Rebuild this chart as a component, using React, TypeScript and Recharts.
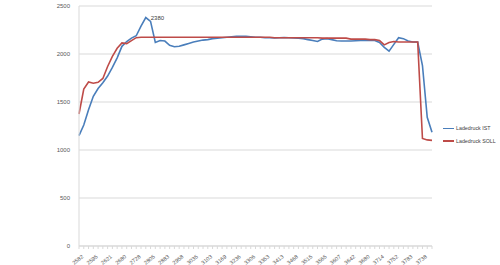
import { LineChart, Line, XAxis, YAxis, CartesianGrid, Legend, LabelList } from "recharts";

// Drehzahl (x-Achse), nur jede dritte ist beschriftet
const drehzahl = [
  "2582", "2586", "2590", "2595", "2603", "2612", "2621", "2640", "2660", "2680",
  "2696", "2712", "2728", "2754", "2780", "2805", "2831", "2857", "2883", "2908",
  "2933", "2958", "2984", "3010", "3035", "3058", "3081", "3103", "3125", "3147",
  "3169", "3191", "3214", "3236", "3259", "3283", "3306", "3322", "3338", "3353",
  "3373", "3393", "3413", "3431", "3450", "3468", "3484", "3500", "3515", "3532",
  "3548", "3565", "3579", "3593", "3607", "3619", "3631", "3642", "3655", "3668",
  "3680", "3691", "3703", "3714", "3727", "3740", "3752", "3763", "3773", "3783",
  "3795", "3760", "3738", "3712", "3680",
];

const ladedruckIst = [
  1150, 1260, 1420, 1560, 1640, 1700, 1770, 1860, 1960, 2080,
  2130, 2165, 2190, 2290, 2380, 2340, 2120, 2140, 2135, 2090,
  2075, 2080, 2095, 2110, 2125, 2135, 2145, 2150, 2160, 2165,
  2170, 2175, 2180, 2185, 2185, 2185, 2180, 2175, 2175, 2170,
  2170, 2168, 2170, 2172, 2170, 2168, 2165, 2160, 2150, 2140,
  2130, 2155, 2160, 2150, 2138, 2135, 2135, 2135, 2138, 2140,
  2140, 2140, 2140, 2120, 2070, 2030, 2100, 2170, 2160, 2135,
  2125, 2125, 1880, 1340, 1185,
];

const ladedruckSoll = [
  1375, 1635, 1708, 1695, 1705, 1745, 1870, 1975, 2060, 2115,
  2108, 2140, 2170, 2175, 2175, 2175, 2175, 2175, 2175, 2175,
  2175, 2175, 2175, 2175, 2175, 2175, 2175, 2175, 2175, 2175,
  2175, 2175, 2175, 2175, 2175, 2175, 2175, 2175, 2175, 2175,
  2175, 2170, 2170, 2170, 2170, 2170, 2170, 2170, 2170, 2170,
  2170, 2165, 2165, 2165, 2165, 2165, 2165, 2155, 2155, 2155,
  2155, 2150, 2150, 2140, 2095, 2120, 2130, 2125, 2125, 2125,
  2125, 2125, 1120, 1105, 1100,
];

const yTicks = [0, 500, 1000, 1500, 2000, 2500];

const data = drehzahl.map((d, i) => ({
  drehzahl: d,
  ist: ladedruckIst[i],
  soll: ladedruckSoll[i],
}));

const FONT = "'Liberation Sans', Arial, sans-serif";
const BLUE = "#4A7EBB";
const RED = "#BE4B48";

const XTick = (props: any) => {
  const { x, y, payload, index } = props;
  if (index % 3 !== 0) return null;
  return (
    <g transform={`translate(${x + 3},${y + 4})`}>
      <text transform="rotate(-38)" textAnchor="end" dy={3} fontSize={5.5} fill="#595959" fontFamily={FONT}>
        {payload.value}
      </text>
    </g>
  );
};

const PeakLabel = (props: any) => {
  const { x, y, index, value } = props;
  if (index !== 14) return null;
  return (
    <text x={x + 5} y={y + 2} fontSize={6} fill="#404040" fontFamily={FONT}>
      {value}
    </text>
  );
};

const LegendBox = () => (
  <div style={{ fontFamily: FONT, fontSize: 5.3, color: "#404040", lineHeight: "12.5px", whiteSpace: "nowrap" }}>
    {[
      { name: "Ladedruck IST", color: BLUE },
      { name: "Ladedruck SOLL", color: RED },
    ].map((e) => (
      <div key={e.name} style={{ display: "flex", alignItems: "center" }}>
        <span style={{ display: "inline-block", width: 11, height: 1.5, background: e.color, marginRight: 2 }} />
        {e.name}
      </div>
    ))}
  </div>
);

export default function App() {
  return (
    <div style={{ position: "absolute", left: 0, top: 0, width: 500, height: 265, background: "#fff" }}>
      <LineChart width={500} height={265} data={data} margin={{ top: 6, right: 68, bottom: 0, left: 2 }}>
        <CartesianGrid vertical={false} stroke="#d9d9d9" strokeWidth={1} />
        <XAxis
          dataKey="drehzahl"
          interval={0}
          tick={<XTick />}
          tickSize={3}
          height={19}
          stroke="#d9d9d9"
          tickLine={{ stroke: "#d9d9d9" }}
        />
        <YAxis
          ticks={yTicks}
          domain={[0, 2500]}
          width={20}
          tickLine={false}
          axisLine={{ stroke: "#d9d9d9" }}
          tick={{ fontSize: 6, fill: "#595959", fontFamily: FONT }}
          tickMargin={3}
        />
        <Legend
          layout="vertical"
          verticalAlign="top"
          align="left"
          wrapperStyle={{ left: 443, top: 122, width: 57 }}
          content={<LegendBox />}
        />
        <Line
          type="linear"
          dataKey="ist"
          name="Ladedruck IST"
          stroke={BLUE}
          strokeWidth={1.6}
          dot={false}
          isAnimationActive={false}
        >
          <LabelList dataKey="ist" content={<PeakLabel />} />
        </Line>
        <Line
          type="linear"
          dataKey="soll"
          name="Ladedruck SOLL"
          stroke={RED}
          strokeWidth={1.6}
          dot={false}
          isAnimationActive={false}
        />
      </LineChart>
    </div>
  );
}
